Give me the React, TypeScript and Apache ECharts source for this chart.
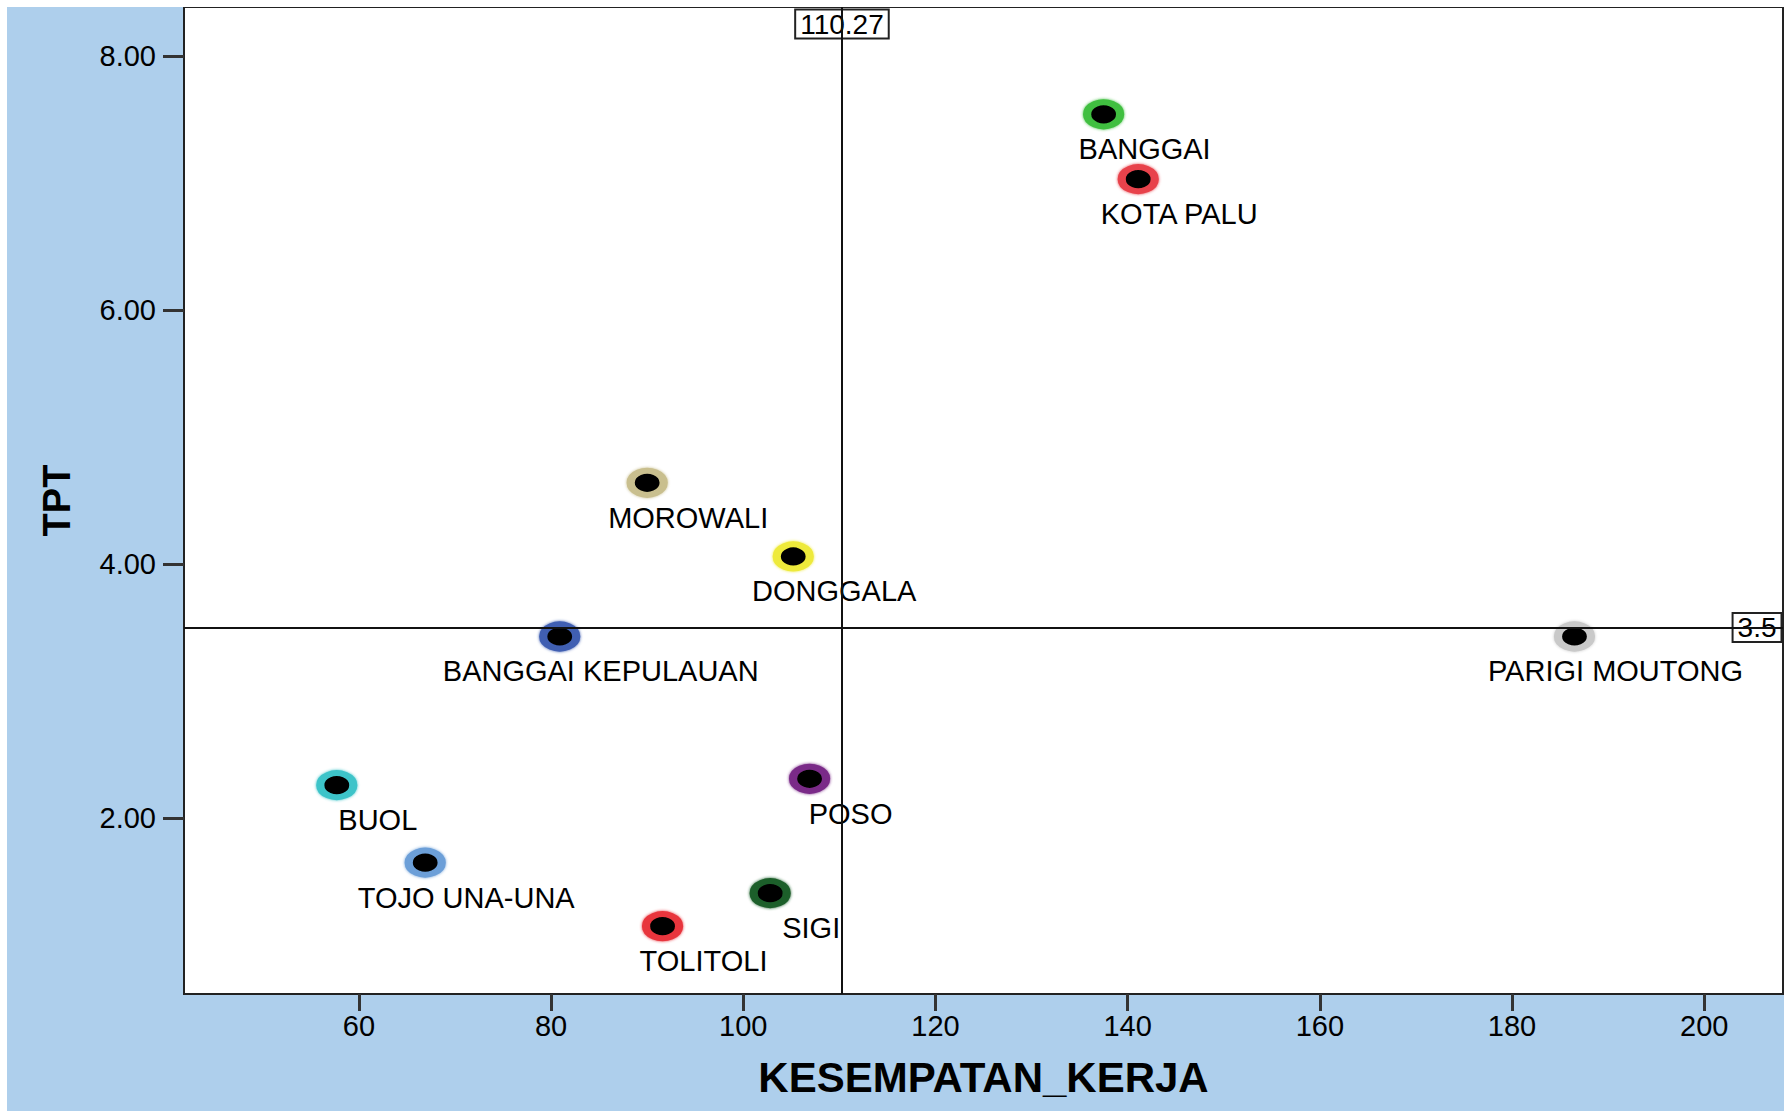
import React, { useEffect, useRef } from "react";
import * as echarts from "echarts";

const names = [
  "BANGGAI",
  "KOTA PALU",
  "MOROWALI",
  "DONGGALA",
  "BANGGAI KEPULAUAN",
  "PARIGI MOUTONG",
  "BUOL",
  "POSO",
  "TOJO UNA-UNA",
  "SIGI",
  "TOLITOLI",
];
const kesempatanKerja = [137.5, 141.1, 90.0, 105.2, 80.9, 186.5, 57.7, 106.9, 66.9, 102.8, 91.6];
const tpt = [7.54, 7.03, 4.64, 4.06, 3.43, 3.43, 2.26, 2.31, 1.65, 1.41, 1.15];
const ringColors = [
  "#3fbf3f",
  "#e8434b",
  "#c9bf8e",
  "#eeea3a",
  "#3f5fb2",
  "#c9c9c9",
  "#3ec4c9",
  "#7a2b88",
  "#6c9fd8",
  "#1d5e2c",
  "#e8353d",
];
const xTicks = [60, 80, 100, 120, 140, 160, 180, 200];
const yTicks = [2, 4, 6, 8];
const refX = 110.27;
const refY = 3.5;
const X_MIN = 41.8;
const X_MAX = 208.2;
const Y_MIN = 0.616;
const Y_MAX = 8.385;

const FONT = "'Liberation Sans', Arial, sans-serif";

export default function App() {
  const ref = useRef<HTMLDivElement>(null);
  useEffect(() => {
    if (!ref.current) return;
    const chart = echarts.init(ref.current, undefined, { renderer: "svg" });
    chart.setOption({
      animation: false,
      backgroundColor: "#aecfec",
      grid: {
        left: 177,
        top: 0,
        width: 1599,
        height: 987,
        show: true,
        backgroundColor: "#ffffff",
        borderColor: "#222",
        borderWidth: 2,
      },
      xAxis: {
        type: "value",
        min: X_MIN,
        max: X_MAX,
        splitLine: { show: false },
        axisLine: { show: true, lineStyle: { color: "#222", width: 2 } },
        axisTick: {
          show: true,
          customValues: xTicks,
          length: 17,
          lineStyle: { color: "#333", width: 3 },
        },
        axisLabel: {
          customValues: xTicks,
          margin: 17,
          fontFamily: FONT,
          fontSize: 29,
          color: "#000",
        },
        name: "KESEMPATAN_KERJA",
        nameLocation: "middle",
        nameGap: 62,
        nameTextStyle: { fontFamily: FONT, fontSize: 42, fontWeight: "bold", color: "#000" },
      },
      yAxis: {
        type: "value",
        min: Y_MIN,
        max: Y_MAX,
        splitLine: { show: false },
        axisLine: { show: true, lineStyle: { color: "#222", width: 2 } },
        axisTick: {
          show: true,
          customValues: yTicks,
          length: 21,
          lineStyle: { color: "#333", width: 3 },
        },
        axisLabel: {
          customValues: yTicks,
          margin: 28,
          fontFamily: FONT,
          fontSize: 29,
          color: "#000",
          formatter: (v: number) => v.toFixed(2),
        },
        name: "TPT",
        nameLocation: "middle",
        nameGap: 108,
        nameRotate: 90,
        nameTextStyle: { fontFamily: FONT, fontSize: 38, fontWeight: "bold", color: "#000" },
      },
      series: [
        {
          type: "scatter",
          symbol: "circle",
          symbolSize: [33, 24],
          data: names.map((n, i) => ({
            name: n,
            value: [kesempatanKerja[i], tpt[i]],
            itemStyle: { borderColor: ringColors[i], shadowColor: ringColors[i], shadowBlur: 3 },
          })),
          itemStyle: { color: "#000", borderWidth: 7, opacity: 1 },
          label: {
            show: true,
            position: "inside",
            offset: [41, 35],
            formatter: "{b}",
            fontFamily: FONT,
            fontSize: 29,
            color: "#000",
          },
          emphasis: { disabled: true },
          markLine: {
            silent: true,
            symbol: "none",
            label: { show: false },
            lineStyle: { color: "#111", width: 2, type: "solid", opacity: 1 },
            emphasis: { disabled: true },
            data: [{ xAxis: refX }, { yAxis: refY }],
          },
          z: 3,
        },
        {
          type: "scatter",
          symbolSize: 1,
          silent: true,
          clip: false,
          data: [
            { name: String(refX), value: [refX, Y_MAX], label: { position: "bottom", distance: 3 } },
            { name: String(refY), value: [X_MAX, refY], label: { position: "left", distance: 2 } },
          ],
          itemStyle: { color: "rgba(0,0,0,0)", opacity: 1 },
          label: {
            show: true,
            opacity: 1,
            formatter: "{b}",
            fontFamily: FONT,
            fontSize: 28,
            color: "#000",
            backgroundColor: "#fff",
            borderColor: "#222",
            borderWidth: 2,
            padding: [1, 4],
            lineHeight: 25,
          },
          emphasis: { disabled: true },
          z: 4,
        },
      ],
    });
    return () => chart.dispose();
  }, []);
  return (
    <div style={{ position: "absolute", left: 0, top: 0, width: 1791, height: 1111, background: "#fff" }}>
      <div ref={ref} style={{ position: "absolute", left: 7, top: 7, width: 1777, height: 1104 }} />
    </div>
  );
}
